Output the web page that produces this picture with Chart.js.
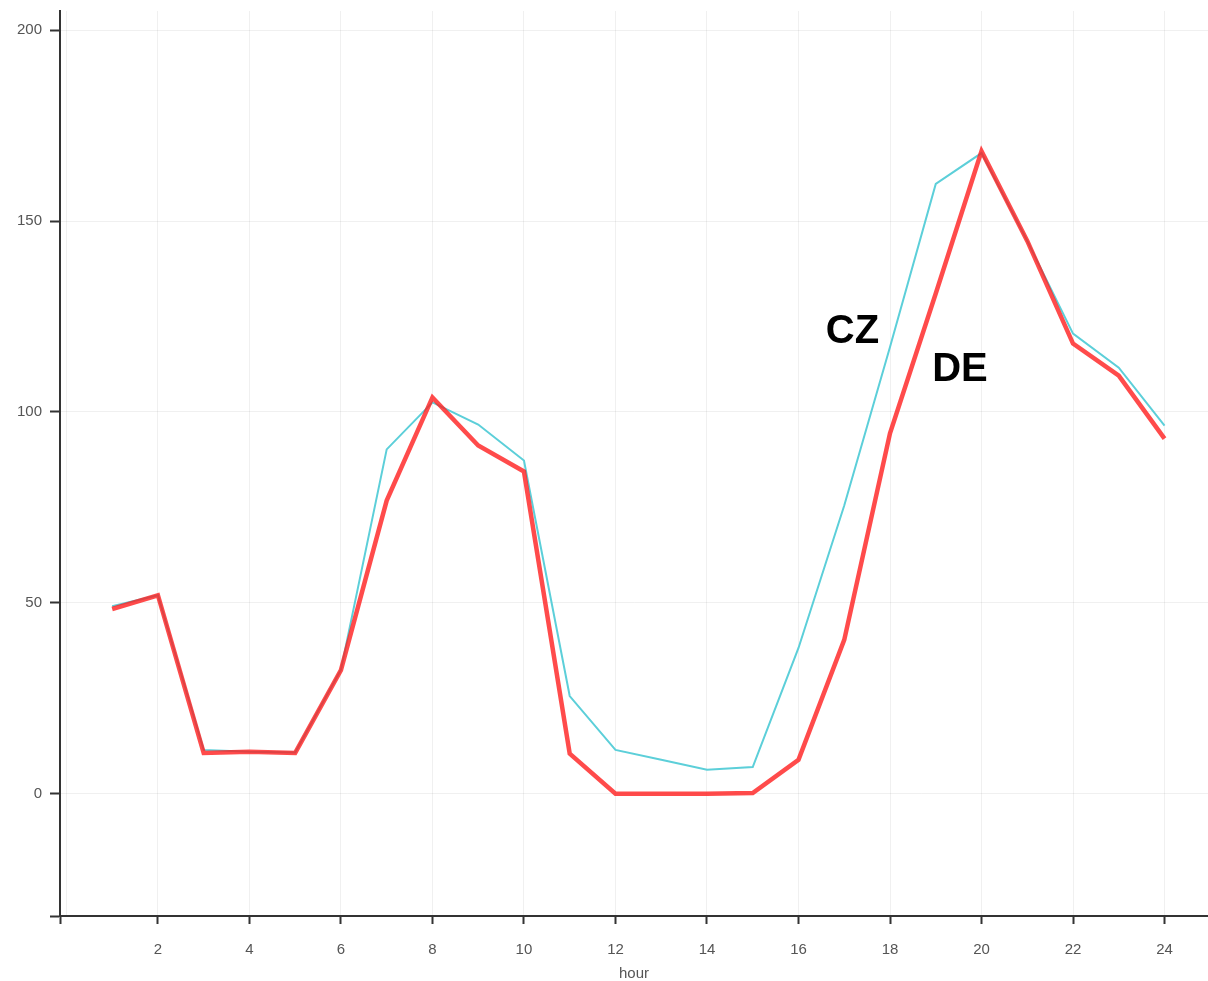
<!DOCTYPE html>
<html>
<head>
<meta charset="utf-8">
<title>CZ / DE by hour</title>
<script src="https://cdn.jsdelivr.net/npm/chart.js@4"></script>
<style>
    html, body { margin: 0; padding: 0; background: #fff; }
    #wrap { width: 1208px; height: 981px; }
</style>
</head>
<body>
<div id="wrap"><canvas id="chart"></canvas></div>
<script>
// Données
const hours = [1, 2, 3, 4, 5, 6, 7, 8, 9, 10, 11, 12, 13, 14, 15, 16, 17, 18, 19, 20, 21, 22, 23, 24];
const czValues = [49.1, 52, 11.5, 11, 10.8, 32.5, 90.2, 102.5, 96.7, 87.3, 25.6, 11.5, 8.9, 6.3, 7, 38.2, 75.5, 117, 159.7, 167.8, 144.8, 120.5, 111.6, 96.4];
const deValues = [48.4, 52, 10.7, 11, 10.7, 32.4, 76.8, 103.8, 91.2, 84.4, 10.5, 0, 0, 0, 0.2, 8.9, 40.3, 94.4, 131, 168.3, 144.8, 117.9, 109.5, 93];
const xTicks = [0, 2, 4, 6, 8, 10, 12, 14, 16, 18, 20, 22, 24];
const yTicks = [0, 50, 100, 150, 200];
const xMin = -0.14, xMax = 24.95;
const yMin = -32, yMax = 205;

// Étiquettes des séries (position en unités du graphique)
const seriesLabels = ['CZ', 'DE'];
const labelX = [17.18, 19.53];
const labelY = [118, 108];

const toPoints = vals => vals.map((v, i) => ({ x: hours[i], y: v }));

// Texte des séries
const seriesLabelPlugin = {
    id: 'seriesLabels',
    afterDatasetsDraw(chart) {
        const { ctx, scales } = chart;
        ctx.save();
        ctx.font = 'bold 40px "Liberation Sans", Arial, sans-serif';
        ctx.fillStyle = '#000';
        ctx.textAlign = 'center';
        ctx.textBaseline = 'alphabetic';
        seriesLabels.forEach((txt, i) => {
            ctx.fillText(txt, scales.x.getPixelForValue(labelX[i]), scales.y.getPixelForValue(labelY[i]));
        });
        ctx.restore();
    }
};

const tickFont = { family: '"Liberation Sans", Arial, sans-serif', size: 15 };

new Chart(document.getElementById('chart'), {
    type: 'line',
    data: {
        datasets: [{
            label: 'CZ',
            data: toPoints(czValues),
            borderColor: '#5ccfd9',
            borderWidth: 2,
            pointRadius: 0,
            tension: 0,
            order: 1
        }, {
            label: 'DE',
            data: toPoints(deValues),
            borderColor: 'rgba(255, 30, 30, 0.8)',
            borderWidth: 4.5,
            pointRadius: 0,
            tension: 0,
            order: 0
        }]
    },
    options: {
        responsive: true,
        maintainAspectRatio: false,
        animation: false,
        layout: { padding: { top: 11, right: 0, bottom: 0, left: 0 } },
        plugins: {
            legend: { display: false },
            tooltip: { enabled: false }
        },
        scales: {
            x: {
                type: 'linear',
                min: xMin,
                max: xMax,
                // le tick du minimum prolonge l'axe y sous l'axe x
                afterBuildTicks: s => { s.ticks = [xMin, ...xTicks].map(v => ({ value: v })); },
                afterFit: s => {
                    s.height = 65;
                    s.paddingLeft = 0;
                    s.paddingRight = 0;
                },
                ticks: {
                    color: '#555',
                    font: tickFont,
                    padding: 17,
                    maxRotation: 0,
                    autoSkip: false,
                    callback: v => (v <= 0 ? '' : v)
                },
                grid: {
                    color: c => (c.tick && c.tick.value === xMin ? 'rgba(0,0,0,0)' : 'rgba(0,0,0,0.06)'),
                    tickColor: c => (c.tick && c.tick.value === 0 ? 'rgba(0,0,0,0)' : '#333'),
                    tickLength: 8,
                    tickWidth: 2
                },
                border: { color: '#333', width: 2 },
                title: {
                    display: true,
                    text: 'hour',
                    color: '#555',
                    font: { family: '"Liberation Sans", Arial, sans-serif', size: 15, lineHeight: 1.0 },
                    padding: 0
                }
            },
            y: {
                type: 'linear',
                min: yMin,
                max: yMax,
                afterBuildTicks: s => { s.ticks = [yMin, ...yTicks].map(v => ({ value: v })); },
                afterFit: s => {
                    s.width = 60;
                    s.paddingTop = 0;
                    s.paddingBottom = 0;
                },
                ticks: {
                    color: '#555',
                    font: tickFont,
                    padding: 8,
                    callback: v => (v === yMin ? '' : v)
                },
                grid: {
                    color: c => (c.tick && c.tick.value === yMin ? 'rgba(0,0,0,0)' : 'rgba(0,0,0,0.06)'),
                    tickColor: '#333',
                    tickLength: 10,
                    tickWidth: 2
                },
                border: { color: '#333', width: 2 }
            }
        }
    },
    plugins: [seriesLabelPlugin]
});
</script>
</body>
</html>
